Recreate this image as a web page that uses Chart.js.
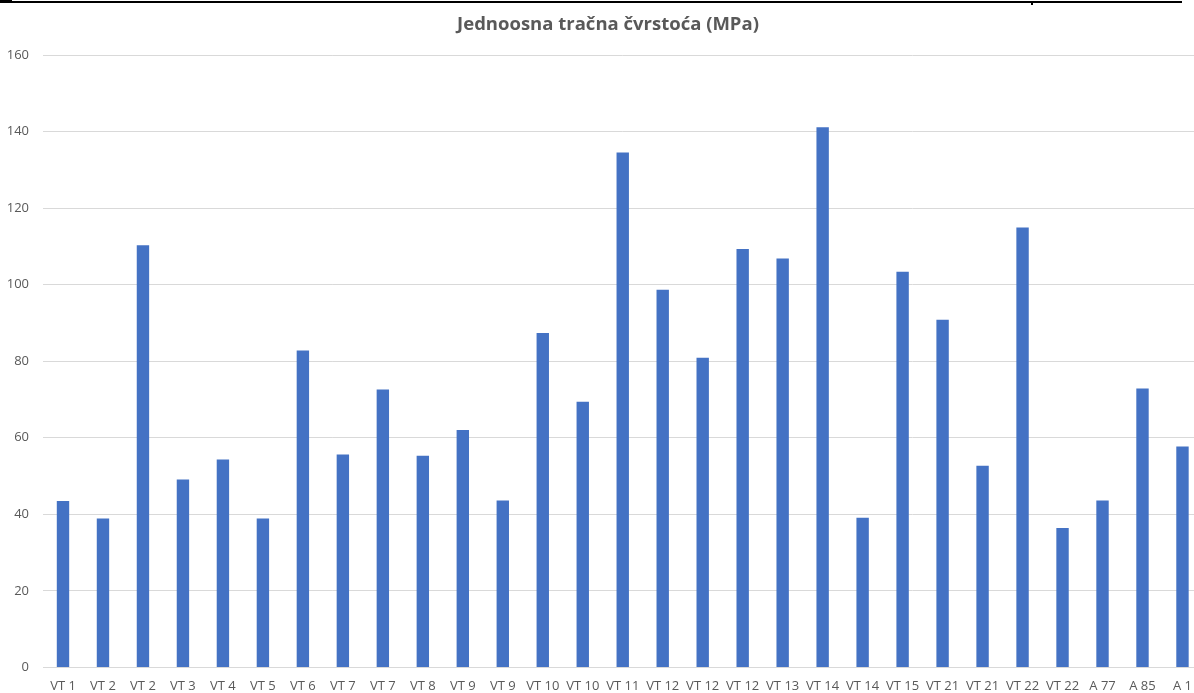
<!DOCTYPE html>
<html>
<head>
<meta charset="utf-8">
<script src="https://cdn.jsdelivr.net/npm/chart.js@4/dist/chart.umd.min.js"></script>
<style>
  html, body { margin: 0; padding: 0; background: #fff; overflow: hidden; }
  #wrap { position: relative; width: 1194px; height: 693px; overflow: hidden; }
  #chart { position: absolute; left: -20px; top: 0; }
  .rule { position: absolute; background: #000; }
</style>
</head>
<body>
<div id="wrap">
  <div class="rule" style="left:0;top:1px;width:1182px;height:2px"></div>
  <div class="rule" style="left:0;top:0;width:12px;height:3px"></div>
  <div class="rule" style="left:1031px;top:1px;width:2px;height:4px"></div>
  <canvas id="chart" width="1223" height="705"></canvas>
</div>
<script>
const labels = ['VT 1', 'VT 2', 'VT 2', 'VT 3', 'VT 4', 'VT 5', 'VT 6', 'VT 7', 'VT 7', 'VT 8',
                'VT 9', 'VT 9', 'VT 10', 'VT 10', 'VT 11', 'VT 12', 'VT 12', 'VT 12', 'VT 13', 'VT 14',
                'VT 14', 'VT 15', 'VT 21', 'VT 21', 'VT 22', 'VT 22', 'A 77', 'A 85', 'A 1'];
const strength = [43.5, 38.9, 110.3, 49.1, 54.3, 38.9, 82.8, 55.6, 72.6, 55.3,
                  62.0, 43.6, 87.4, 69.4, 134.5, 98.7, 80.9, 109.3, 106.8, 141.1,
                  39.1, 103.4, 90.8, 52.7, 114.9, 36.4, 43.6, 72.9, 57.7];
const titleText = 'Jednoosna tračna čvrstoća (MPa)';

const gray = '#595959';
const fontFamily = '"Open Sans", "Noto Sans", sans-serif';

// Excel centres the title on the whole chart, which runs past the right edge here
const titlePlugin = {
    id: 'offsetTitle',
    afterDraw(chart) {
        const ctx = chart.ctx;
        ctx.save();
        ctx.fillStyle = gray;
        ctx.font = 'bold 18.5px ' + fontFamily;
        ctx.textAlign = 'center';
        ctx.textBaseline = 'middle';
        ctx.fillText(titleText, 628, 25);
        ctx.restore();
    }
};

new Chart(document.getElementById('chart').getContext('2d'), {
    type: 'bar',
    data: {
        labels: labels,
        datasets: [{
            data: strength,
            backgroundColor: '#4472C4',
            barPercentage: 0.31,
            categoryPercentage: 1
        }]
    },
    options: {
        responsive: false,
        animation: false,
        devicePixelRatio: 1,
        layout: { padding: { top: 55 } },
        plugins: {
            legend: { display: false },
            tooltip: { enabled: false },
            title: { display: false }
        },
        scales: {
            x: {
                grid: { display: false, drawTicks: false },
                border: { display: true, color: '#d9d9d9', width: 1 },
                ticks: {
                    color: gray,
                    font: { family: fontFamily, size: 13 },
                    padding: 11,
                    maxRotation: 0,
                    autoSkip: false
                }
            },
            y: {
                min: 0,
                max: 160,
                afterFit: (s) => { s.width = 63; },
                grid: { color: '#d9d9d9', drawTicks: false },
                border: { display: false },
                ticks: {
                    stepSize: 20,
                    color: gray,
                    font: { family: fontFamily, size: 13 },
                    padding: 14
                }
            }
        }
    },
    plugins: [titlePlugin]
});
</script>
</body>
</html>
